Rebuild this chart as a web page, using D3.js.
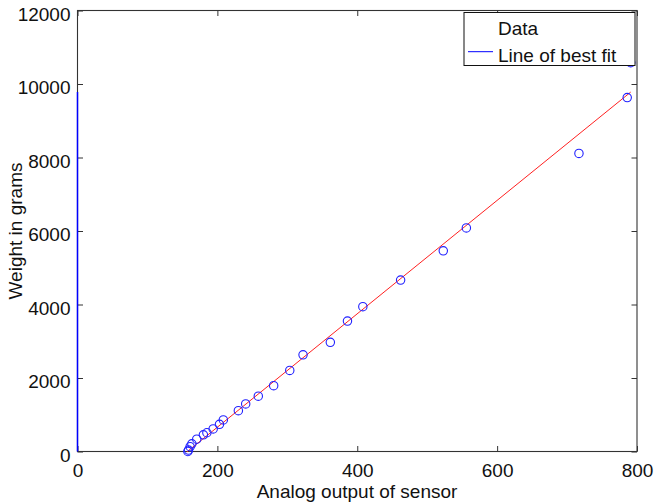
<!DOCTYPE html>
<html>
<head>
<meta charset="utf-8">
<script src="https://cdn.jsdelivr.net/npm/d3@7"></script>
<style>
  html, body { margin: 0; padding: 0; background: #fff; }
  svg { display: block; }
  text { font-family: "Liberation Sans", Arial, Helvetica, sans-serif; fill: #111; }
</style>
</head>
<body>
<svg id="chart" width="654" height="502"></svg>
<script>
// Sensor calibration readings: analog output vs. known weight (grams)
const sensorOutput = [157.8, 158.7, 161, 163.5, 170.5, 180, 185, 194, 203, 208.5,
                      230, 240.5, 258.5, 280.5, 303.5, 322.5, 361.5, 386, 408, 462,
                      523, 556, 717, 786, 791];
const weightGrams  = [0, 40, 130, 210, 335, 455, 510, 615, 740, 860,
                      1110, 1295, 1505, 1790, 2205, 2630, 2970, 3550, 3940, 4665,
                      5460, 6085, 8110, 9630, 10580];

// Least-squares fit evaluated at the ends of the data range
const fitX = [156.5, 791];
const fitY = [-10, 9780];

// Fitted values plotted against a zero abscissa (vertical trace at x = 0)
const traceX = [0, 0];
const traceY = [0, 9780];

const xTicks = [0, 200, 400, 600, 800];
const yTicks = [0, 2000, 4000, 6000, 8000, 10000, 12000];
const legendLabels = ["Data", "Line of best fit"];

const svg = d3.select("#chart");
const m = { left: 77.5, right: 637, top: 10.5, bottom: 451.5 };
const fontSize = 19;
const tickLen = 5.5;

const x = d3.scaleLinear().domain([0, 800]).range([m.left, m.right]);
const y = d3.scaleLinear().domain([0, 12000]).range([m.bottom, m.top]);

// Axes with inward ticks on all four sides
const axisColor = "#333";
function styleAxis(g) {
  g.select(".domain").remove();
  g.selectAll(".tick line").attr("stroke", axisColor).attr("stroke-width", 1);
}

svg.append("g")
  .attr("transform", `translate(0,${m.bottom})`)
  .call(d3.axisBottom(x).tickValues(xTicks).tickSizeInner(-tickLen).tickSizeOuter(0))
  .call(styleAxis)
  .call(g => g.selectAll(".tick text").attr("font-size", fontSize).attr("dy", "0.71em").attr("y", 12));

svg.append("g")
  .attr("transform", `translate(0,${m.top})`)
  .call(d3.axisTop(x).tickValues(xTicks).tickSizeInner(-tickLen).tickSizeOuter(0).tickFormat(""))
  .call(styleAxis);

svg.append("g")
  .attr("transform", `translate(${m.left},0)`)
  .call(d3.axisLeft(y).tickValues(yTicks).tickSizeInner(-tickLen).tickSizeOuter(0).tickFormat(d3.format("d")))
  .call(styleAxis)
  .call(g => g.selectAll(".tick text").attr("font-size", fontSize).attr("x", -7).attr("dy", "0.5em"));

svg.append("g")
  .attr("transform", `translate(${m.right},0)`)
  .call(d3.axisRight(y).tickValues(yTicks).tickSizeInner(-tickLen).tickSizeOuter(0).tickFormat(""))
  .call(styleAxis);

// Axes box
svg.append("rect")
  .attr("x", m.left).attr("y", m.top)
  .attr("width", m.right - m.left).attr("height", m.bottom - m.top)
  .attr("fill", "none").attr("stroke", axisColor).attr("stroke-width", 1.1);

const line = d3.line().x(d => x(d[0])).y(d => y(d[1]));

// Vertical blue trace
svg.append("path")
  .datum(d3.zip(traceX, traceY))
  .attr("d", line)
  .attr("fill", "none").attr("stroke", "#0000ff").attr("stroke-width", 1.5);

// Red fitted line
svg.append("path")
  .datum(d3.zip(fitX, fitY))
  .attr("d", line)
  .attr("fill", "none").attr("stroke", "#ff2020").attr("stroke-width", 1);

// Data markers
svg.append("g")
  .selectAll("circle")
  .data(d3.zip(sensorOutput, weightGrams))
  .join("circle")
  .attr("cx", d => x(d[0]))
  .attr("cy", d => y(d[1]))
  .attr("r", 4.2)
  .attr("fill", "none")
  .attr("stroke", "#2020ff")
  .attr("stroke-width", 1.1);

// Legend
const lg = svg.append("g");
lg.append("rect")
  .attr("x", 464).attr("y", 12.5).attr("width", 171).attr("height", 53)
  .attr("fill", "#fff").attr("stroke", "#111").attr("stroke-width", 1);
lg.append("text").attr("x", 498).attr("y", 35).attr("font-size", fontSize).text(legendLabels[0]);
lg.append("line")
  .attr("x1", 468).attr("x2", 493).attr("y1", 51.7).attr("y2", 51.7)
  .attr("stroke", "#0000ff").attr("stroke-width", 1);
lg.append("text").attr("x", 498).attr("y", 61.5).attr("font-size", fontSize).text(legendLabels[1]);

// Axis titles
svg.append("text")
  .attr("x", 357).attr("y", 498.2)
  .attr("text-anchor", "middle").attr("font-size", fontSize)
  .text("Analog output of sensor");

svg.append("text")
  .attr("transform", `translate(22,${(m.top + m.bottom) / 2}) rotate(-90)`)
  .attr("text-anchor", "middle").attr("font-size", fontSize)
  .text("Weight in grams");
</script>
</body>
</html>
